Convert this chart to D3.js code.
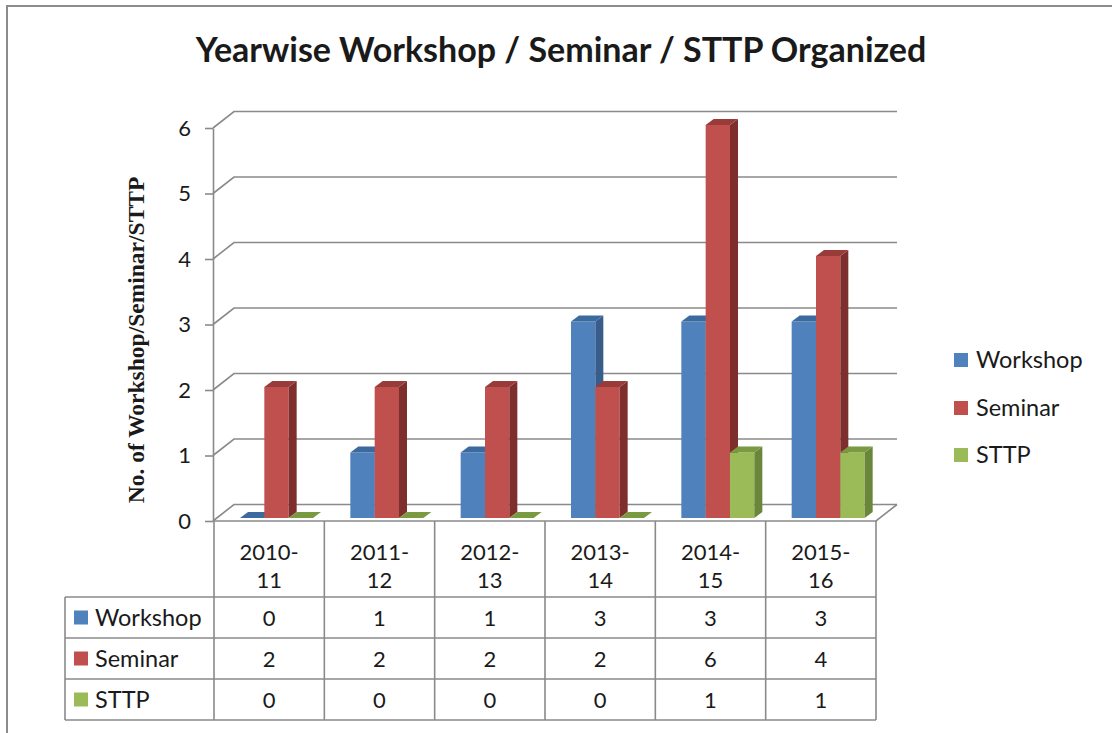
<!DOCTYPE html>
<html><head><meta charset="utf-8">
<script src="https://cdn.jsdelivr.net/npm/d3@7"></script>
<style>
html,body{margin:0;padding:0;background:#fff;}
svg{display:block;}
text{font-family:Lato,"Noto Sans",sans-serif;fill:#1a1a1a;}
</style></head>
<body>
<svg id="chart" width="1112" height="733"></svg>
<script>
const categories = ["2010-11","2011-12","2012-13","2013-14","2014-15","2015-16"];
const seriesNames = ["Workshop","Seminar","STTP"];
const workshop = [0,1,1,3,3,3];
const seminar = [2,2,2,2,6,4];
const sttp = [0,0,0,0,1,1];
const yTicks = [0,1,2,3,4,5,6];
const titleText = "Yearwise Workshop / Seminar / STTP Organized";
const yTitle = "No. of Workshop/Seminar/STTP";

const seriesValues = [workshop, seminar, sttp];
const palette = {
  Workshop: {front:"#4F81BD", side:"#385D8A", top:"#3D6A9E"},
  Seminar:  {front:"#C0504D", side:"#7E2F2D", top:"#983B39"},
  STTP:     {front:"#9BBB59", side:"#6A863A", top:"#7A9A42"}
};
const FS = "22px";
const LFS = "23.5px";

const svg = d3.select("#chart");

// outer chart border
svg.append("rect").attr("x",7).attr("y",6).attr("width",1200).attr("height",800)
  .attr("fill","#fff").attr("stroke","#8c8c8c").attr("stroke-width",2);

// title
svg.append("text").attr("x",561).attr("y",62).attr("text-anchor","middle")
  .style("font-size","34px").style("font-weight","bold").attr("fill","#000")
  .text(titleText);

const x = d3.scaleBand().domain(categories).range([214, 876]);
const y = d3.scaleLinear().domain([0,6]).range([521, 128]);
const x1 = d3.scaleBand().domain(seriesNames).range([26, 99]);
const DX = 21, DY = -16.5;      // wall depth
const FY = -3;                  // bar front offset
const BDX = 8, BDY = -6;        // bar depth
const gridColor = "#8a8a8a";

// gridlines (back wall + side wall)
const g = svg.append("g");
yTicks.forEach(t => {
  const yy = y(t);
  g.append("path")
    .attr("d", `M${x.range()[0]-1},${yy} L${x.range()[0]-1+DX},${yy+DY} L${x.range()[1]+DX},${yy+DY}`)
    .attr("fill","none").attr("stroke",gridColor).attr("stroke-width",1.6);
});
// floor front & right edge
const y0 = y(0);
g.append("path")
  .attr("d", `M${x.range()[0]-1},${y0} L${x.range()[1]},${y0} L${x.range()[1]+DX},${y0+DY}`)
  .attr("fill","none").attr("stroke",gridColor).attr("stroke-width",1.6);

// y axis
const yAxis = d3.axisLeft(y).tickValues(yTicks).tickFormat(d3.format("d"))
  .tickSize(8).tickSizeOuter(0).tickPadding(14);
const ax = svg.append("g").attr("transform",`translate(${x.range()[0]-1},0)`).call(yAxis);
ax.select(".domain").attr("stroke",gridColor).attr("stroke-width",1.6);
ax.selectAll(".tick line").attr("stroke",gridColor).attr("stroke-width",1.6);
ax.selectAll(".tick text").style("font-size",FS).style("font-family","Lato,sans-serif").attr("fill","#1a1a1a");

// y axis title
svg.append("text").attr("transform","translate(144,340) rotate(-90)")
  .attr("text-anchor","middle")
  .style("font-family","'Liberation Serif','DejaVu Serif',serif")
  .style("font-size","23.5px").style("font-weight","bold").attr("fill","#101028")
  .text(yTitle);

// bars
const bars = svg.append("g");
categories.forEach((c,i) => {
  seriesNames.forEach((s,j) => {
    const v = seriesValues[j][i];
    const col = palette[s];
    const w = x1.bandwidth();
    const xa = x(c) + x1(s);
    const yb = y(0) + FY, yt = y(v) + FY;
    if (v > 0) {
      bars.append("rect").attr("x",xa).attr("y",yt).attr("width",w).attr("height",yb-yt)
        .attr("fill",col.front);
      bars.append("path").attr("d",`M${xa+w},${yt} L${xa+w+BDX},${yt+BDY} L${xa+w+BDX},${yb+BDY} L${xa+w},${yb} Z`)
        .attr("fill",col.side);
    }
    bars.append("path").attr("d",`M${xa},${yt} L${xa+BDX},${yt+BDY} L${xa+w+BDX},${yt+BDY} L${xa+w},${yt} Z`)
      .attr("fill",col.top);
  });
});

// data table
const tbl = svg.append("g");
const rowTops = [597, 638, 679, 720];
const tableLeft = 65, tableRight = x.range()[1];
const lineCol = "#8a8a8a";
categories.forEach(c => {
  tbl.append("line").attr("x1",x(c)).attr("x2",x(c)).attr("y1",y0).attr("y2",rowTops[3])
    .attr("stroke",lineCol).attr("stroke-width",1.6);
});
tbl.append("line").attr("x1",tableRight).attr("x2",tableRight).attr("y1",y0).attr("y2",rowTops[3])
  .attr("stroke",lineCol).attr("stroke-width",1.6);
tbl.append("line").attr("x1",tableLeft).attr("x2",tableLeft).attr("y1",rowTops[0]).attr("y2",rowTops[3])
  .attr("stroke",lineCol).attr("stroke-width",1.6);
rowTops.forEach(r => {
  tbl.append("line").attr("x1",tableLeft).attr("x2",tableRight).attr("y1",r).attr("y2",r)
    .attr("stroke",lineCol).attr("stroke-width",1.6);
});
// header text
categories.forEach(c => {
  const parts = c.split("-");
  const cx = x(c) + x.bandwidth()/2;
  tbl.append("text").attr("x",cx).attr("y",560).attr("text-anchor","middle").style("font-size",FS).text(parts[0]+"-");
  tbl.append("text").attr("x",cx).attr("y",588).attr("text-anchor","middle").style("font-size",FS).text(parts[1]);
});
// rows
seriesNames.forEach((s,j) => {
  const top = rowTops[j], bot = rowTops[j+1];
  const cy = (top+bot)/2;
  tbl.append("rect").attr("x",74).attr("y",cy-7).attr("width",14).attr("height",14).attr("fill",palette[s].front);
  tbl.append("text").attr("x",95).attr("y",cy+8).style("font-size",LFS).text(s);
  categories.forEach((c,i) => {
    tbl.append("text").attr("x",x(c)+x.bandwidth()/2).attr("y",cy+8).attr("text-anchor","middle")
      .style("font-size",FS).text(seriesValues[j][i]);
  });
});

// legend
const lg = svg.append("g");
const legendY = [360, 408, 455];
seriesNames.forEach((s,j) => {
  lg.append("rect").attr("x",954).attr("y",legendY[j]-7).attr("width",14).attr("height",14).attr("fill",palette[s].front);
  lg.append("text").attr("x",976).attr("y",legendY[j]+8).style("font-size",LFS).text(s);
});
</script>
</body></html>
